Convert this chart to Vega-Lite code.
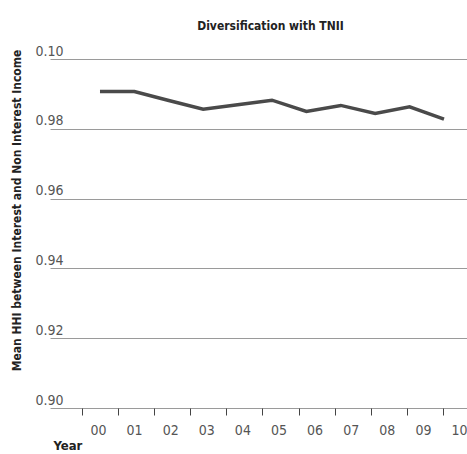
{
  "$schema": "https://vega.github.io/schema/vega-lite/v6.json",
  "width": 417,
  "height": 349,
  "autosize": {"type": "none"},
  "padding": {"left": 50, "top": 59, "right": 0, "bottom": 46},
  "background": "white",
  "title": {
    "text": "Diversification with TNII",
    "font": "'DejaVu Sans Condensed', Roboto, sans-serif",
    "fontSize": 12,
    "fontWeight": "bold",
    "color": "#222",
    "anchor": "middle",
    "frame": "group",
    "baseline": "alphabetic",
    "dx": 12,
    "offset": 2
  },
  "config": {
    "view": {"stroke": null},
    "axis": {"labelFont": "'DejaVu Sans Condensed', Roboto, sans-serif", "titleFont": "'DejaVu Sans Condensed', Roboto, sans-serif"}
  },
  "data": {
    "values": [
      {"year": 2000, "hhi": 0.9907},
      {"year": 2001, "hhi": 0.9907},
      {"year": 2002, "hhi": 0.9881},
      {"year": 2003, "hhi": 0.9856},
      {"year": 2004, "hhi": 0.9869},
      {"year": 2005, "hhi": 0.9882},
      {"year": 2006, "hhi": 0.9850},
      {"year": 2007, "hhi": 0.9867},
      {"year": 2008, "hhi": 0.9844},
      {"year": 2009, "hhi": 0.9863},
      {"year": 2010, "hhi": 0.9828}
    ]
  },
  "encoding": {
    "y": {
      "field": "hhi",
      "type": "quantitative",
      "scale": {"domain": [0.9, 1.0], "zero": false, "nice": false},
      "axis": {
        "values": [0.9, 0.92, 0.94, 0.96, 0.98, 1.0],
        "labelExpr": "datum.value >= 0.999 ? '0.10' : format(datum.value, '.2f')",
        "domain": false,
        "ticks": false,
        "grid": true,
        "gridColor": "#9a9a9a",
        "gridWidth": 1,
        "labelAlign": "left",
        "labelBaseline": "bottom",
        "labelPadding": 15,
        "labelOffset": -1,
        "labelFontSize": 14,
        "labelColor": "#555",
        "title": "Mean HHI between Interest and Non Interest Income",
        "titleFontSize": 12,
        "titleFontWeight": "bold",
        "titleColor": "#222",
        "titleAngle": -90,
        "titleAlign": "center",
        "titleBaseline": "middle",
        "titleX": -34,
        "titleY": 151
      }
    }
  },
  "layer": [
    {
      "mark": {"type": "point", "opacity": 0},
      "encoding": {
        "x": {
          "field": "year",
          "type": "quantitative",
          "scale": {"domain": [1999.114, 2010.665], "nice": false, "zero": false},
          "axis": {
            "values": [2000, 2001, 2002, 2003, 2004, 2005, 2006, 2007, 2008, 2009, 2010],
            "labelExpr": "slice(toString(datum.value), 2)",
            "domain": false,
            "grid": false,
            "ticks": true,
            "tickSize": 7,
            "tickColor": "#444",
            "tickWidth": 1,
            "labelOffset": 16,
            "labelPadding": 8,
            "labelFontSize": 14,
            "labelColor": "#555",
            "labelBaseline": "top",
            "title": "Year",
            "titleFontSize": 13,
            "titleFontWeight": "bold",
            "titleColor": "#222",
            "titleAlign": "left",
            "titleBaseline": "middle",
            "titleX": 3,
            "titleY": 37
          }
        }
      }
    },
    {
      "mark": {"type": "line", "color": "#4a4a4a", "strokeWidth": 3.5},
      "encoding": {
        "x": {
          "field": "year",
          "type": "quantitative",
          "scale": {"domain": [1998.547, 2010.669], "nice": false, "zero": false},
          "axis": null
        }
      }
    }
  ],
  "resolve": {"scale": {"x": "independent"}}
}
